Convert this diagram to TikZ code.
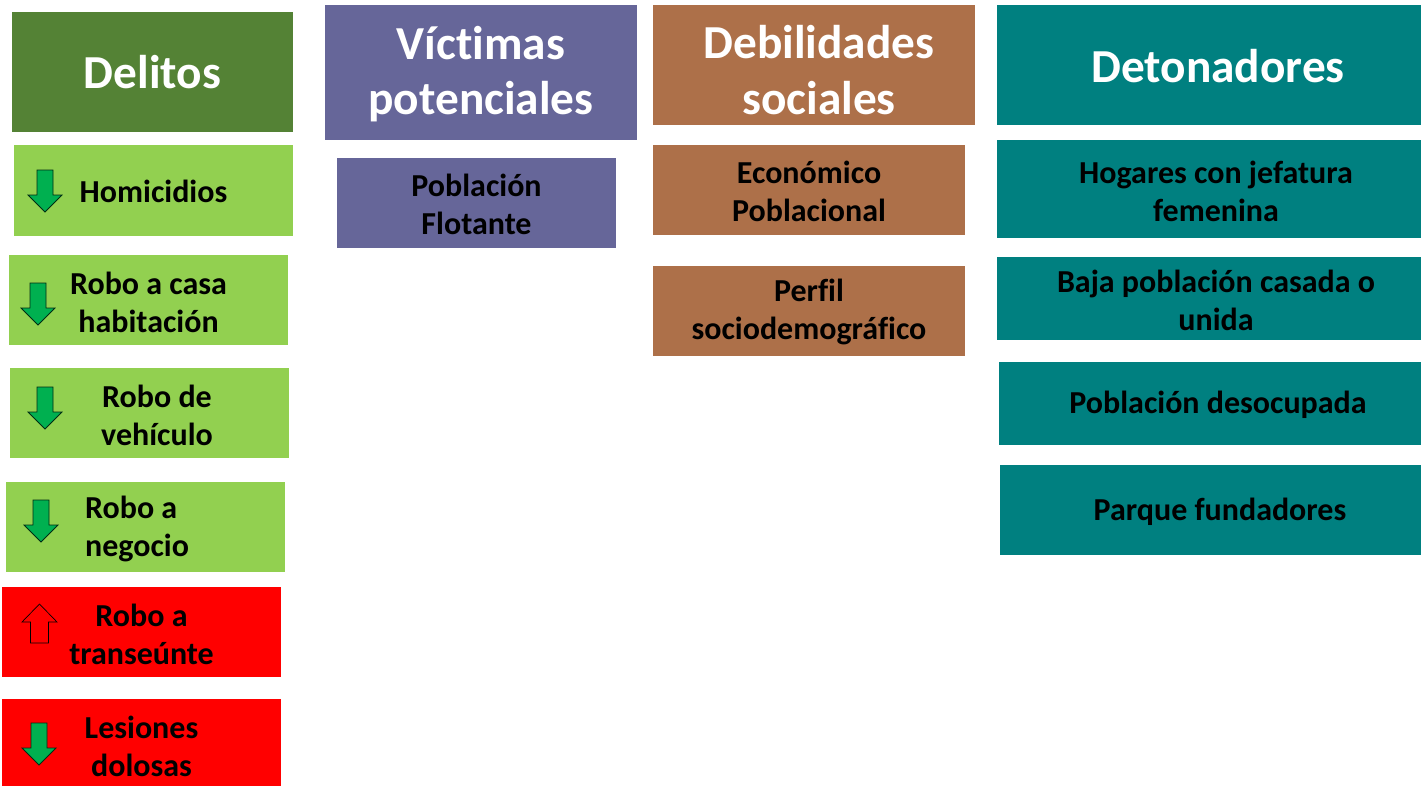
\documentclass[tikz,border=0pt]{standalone}
\usepackage{fontspec}
\setmainfont[Ligatures=NoCommon]{Carlito}
\usepackage{tikz}

\definecolor{headgreen}{HTML}{548235}
\definecolor{itemgreen}{HTML}{92D050}
\definecolor{itemred}{HTML}{FF0000}
\definecolor{lilac}{HTML}{666699}
\definecolor{copper}{HTML}{AD7049}
\definecolor{teal}{HTML}{008080}
\definecolor{arrowgreen}{HTML}{00B050}

\tikzset{
 header/.style={text=white,align=center,font=\fontsize{35.5}{41.5}\selectfont\bfseries},
 item/.style={text=black,align=center,font=\fontsize{24}{28.5}\selectfont\bfseries},
 arrowdn/.style={fill=arrowgreen,draw=black!75!arrowgreen,line width=0.6pt},
 arrowup/.style={fill=itemred,draw=black,line width=0.5pt}
}

% down arrow: #1 = centre x, #2 = top y
\newcommand{\arrowdown}[2]{%
 \draw[arrowdn] ({#1-8},#2) -- ({#1+8},#2) -- ({#1+8},{#2+25}) -- ({#1+17},{#2+25})
  -- (#1,{#2+42}) -- ({#1-17},{#2+25}) -- ({#1-8},{#2+25}) -- cycle;}

\begin{document}
\begin{tikzpicture}[x=0.75pt,y=-0.75pt]
 \useasboundingbox (0,0) rectangle (1421,786);

 % Delitos
 \fill[headgreen] (12,12) rectangle (293,132);
 \node[header] (delitos) at (152.5,72) {Delitos};
 \fill[itemgreen] (14,145) rectangle (293,236);
 \node[item] (homicidios) at (153.5,191) {Homicidios};
 \arrowdown{45}{170}
 \fill[itemgreen] (9,255) rectangle (288,345);
 \node[item] (casa) at (148.5,302) {Robo a casa\\habitación};
 \arrowdown{38}{283}
 \fill[itemgreen] (10,368) rectangle (289,458);
 \node[item] (vehiculo) at (157,415) {Robo de\\vehículo};
 \arrowdown{45}{387}
 \fill[itemgreen] (6,482) rectangle (285,572);
 \node[item,align=left,anchor=west] (negocio) at (80.5,529) {Robo a\\negocio};
 \arrowdown{41}{500}
 \fill[itemred] (2,587) rectangle (281,677);
 \node[item] (transeunte) at (141.5,634) {Robo a\\transeúnte};
 \draw[arrowup] (39.5,604) -- (57,622) -- (48.5,622) -- (48.5,643) -- (30.5,643)
  -- (30.5,622) -- (22,622) -- cycle;
 \fill[itemred] (2,699) rectangle (281,786);
 \node[item] (lesiones) at (141.5,746) {Lesiones\\dolosas};
 \arrowdown{39}{723}

 % Victimas potenciales
 \fill[lilac] (325,5) rectangle (637,140);
 \node[header] (victimas) at (481,74) {Víctimas\\potenciales};
 \fill[lilac] (337,158) rectangle (616,248);
 \node[item] (flotante) at (476.5,204) {Población\\Flotante};

 % Debilidades sociales
 \fill[copper] (653,5) rectangle (975,125);
 \node[header] (debilidades) at (819,70) {Debilidades\\sociales};
 \fill[copper] (653,145) rectangle (965,235);
 \node[item] (economico) at (809,191) {Económico\\Poblacional};
 \fill[copper] (653,266) rectangle (965,356);
 \node[item] (perfil) at (809,312) {Perfil\\sociodemográfico};

 % Detonadores
 \fill[teal] (997,5) rectangle (1421,125);
 \node[header] (detonadores) at (1218,66) {Detonadores};
 \fill[teal] (997,140) rectangle (1421,238);
 \node[item] (hogares) at (1216,191) {Hogares con jefatura\\femenina};
 \fill[teal] (997,257) rectangle (1421,340);
 \node[item] (casada) at (1216,300) {Baja población casada o\\unida};
 \fill[teal] (999,362) rectangle (1421,445);
 \node[item] (desocupada) at (1218,405) {Población desocupada};
 \fill[teal] (1000,465) rectangle (1421,555);
 \node[item] (parque) at (1220,512) {Parque fundadores};
\end{tikzpicture}
\end{document}
